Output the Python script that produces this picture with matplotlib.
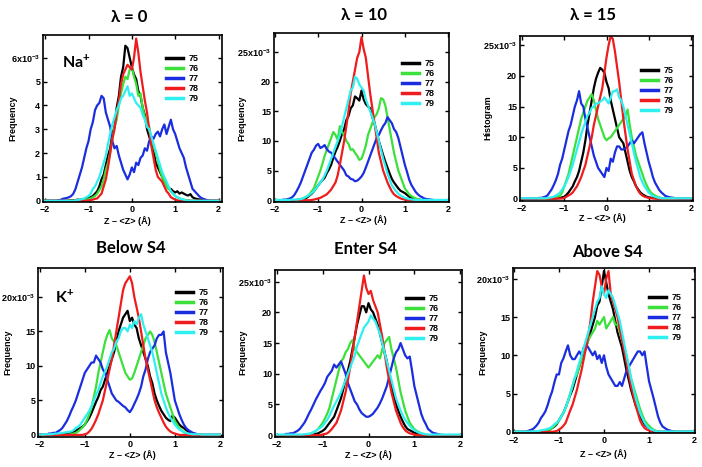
import numpy as np
import matplotlib
matplotlib.use('Agg')
import matplotlib.pyplot as plt
from matplotlib.ticker import MultipleLocator, FuncFormatter

plt.rcParams['font.family'] = ['Liberation Sans', 'DejaVu Sans']
plt.rcParams['mathtext.fontset'] = 'custom'
plt.rcParams['mathtext.rm'] = 'Liberation Sans:bold'
plt.rcParams['mathtext.bf'] = 'Liberation Sans:bold'
plt.rcParams['mathtext.default'] = 'bf'

# bin centres, Z - <Z> (A), 0.05 wide
z = np.round(np.arange(-2.0, 2.001, 0.05), 2)
labels = ['75', '76', '77', '78', '79']
colors = ['#000000', '#3be03b', '#1a2ee0', '#ee1c1c', '#2ef0f0']

# histogram values in units of 1e-3, rows of 10 bins (-2.0, -1.5, ... 1.5) + last bin
lam0_75 = [0, 0, 0, 0, 0, 0, 0, 0, 0, 0,
           0, 0.01, 0.02, 0.02, 0.03, 0.05, 0.04, 0.06, 0.08, 0.1,
           0.12, 0.15, 0.2, 0.3, 0.4, 0.6, 0.9, 1.1, 1.5, 1.9,
           2.2, 2.8, 3.1, 3.9, 4.4, 5.2, 5.6, 6.5, 6.4, 6.0,
           5.6, 5.3, 5.1, 4.6, 4.4, 3.9, 3.6, 3.0, 2.7, 2.4,
           2.1, 1.6, 1.4, 1.2, 1.0, 0.8, 0.7, 0.5, 0.5, 0.4,
           0.35, 0.4, 0.3, 0.35, 0.3, 0.25, 0.22, 0.28, 0.15, 0.1,
           0.08, 0.06, 0.04, 0.02, 0.01, 0, 0, 0, 0, 0, 0]
lam0_76 = [0, 0, 0, 0, 0, 0, 0, 0, 0, 0,
           0, 0, 0, 0, 0, 0, 0.01, 0.02, 0.03, 0.04,
           0.08, 0.1, 0.15, 0.2, 0.3, 0.45, 0.6, 0.9, 1.3, 1.6,
           2.0, 2.6, 3.1, 3.4, 4.0, 4.5, 4.9, 5.2, 5.1, 5.5,
           5.6, 5.2, 4.9, 4.4, 4.5, 3.9, 3.5, 3.3, 3.1, 2.6,
           2.3, 2.0, 1.7, 1.3, 1.0, 0.8, 0.6, 0.5, 0.4, 0.3,
           0.2, 0.15, 0.1, 0.07, 0.05, 0.03, 0.02, 0.01, 0, 0,
           0, 0, 0, 0, 0, 0, 0, 0, 0, 0, 0]
lam0_77 = [0, 0, 0, 0, 0, 0, 0.02, 0.03, 0.08, 0.1,
           0.12, 0.15, 0.2, 0.3, 0.5, 0.8, 1.1, 1.4, 1.8, 2.2,
           2.5, 3.0, 3.3, 3.8, 4.0, 4.1, 4.4, 4.3, 3.7, 3.4,
           3.1, 2.5, 2.2, 2.3, 1.9, 1.6, 1.3, 1.1, 0.9, 1.1,
           1.4, 1.2, 1.6, 1.5, 1.8, 1.9, 2.2, 2.1, 2.5, 2.7,
           2.6, 2.8, 2.9, 2.7, 3.0, 3.2, 2.8, 3.1, 3.4, 3.0,
           2.8, 2.5, 2.2, 2.0, 1.8, 1.4, 1.1, 0.8, 0.5, 0.4,
           0.3, 0.2, 0.12, 0.08, 0.05, 0.02, 0, 0, 0, 0, 0]
lam0_78 = [0, 0, 0, 0, 0, 0, 0, 0, 0, 0,
           0, 0, 0, 0, 0, 0, 0, 0, 0, 0,
           0.02, 0.03, 0.05, 0.08, 0.1, 0.2, 0.3, 0.6, 0.9, 1.4,
           2.0, 2.6, 3.0, 3.7, 4.2, 4.9, 5.3, 5.5, 5.7, 5.6,
           5.5, 6.0, 6.8, 6.2, 5.4, 4.8, 4.2, 3.7, 3.0, 2.3,
           1.8, 1.3, 1.0, 0.9, 0.8, 0.6, 0.4, 0.3, 0.15, 0.1,
           0.05, 0.02, 0, 0, 0, 0, 0, 0, 0, 0,
           0, 0, 0, 0, 0, 0, 0, 0, 0, 0, 0]
lam0_79 = [0, 0, 0, 0, 0, 0, 0, 0, 0, 0,
           0, 0, 0, 0, 0.02, 0.03, 0.05, 0.07, 0.1, 0.15,
           0.2, 0.3, 0.5, 0.6, 0.8, 1.0, 1.3, 1.6, 1.9, 2.4,
           2.8, 3.2, 3.5, 3.8, 4.0, 4.3, 4.4, 4.6, 4.8, 4.4,
           4.5, 4.3, 4.1, 4.0, 3.9, 3.6, 3.4, 3.1, 3.0, 2.7,
           2.4, 2.1, 1.8, 1.5, 1.2, 1.0, 0.8, 0.6, 0.4, 0.3,
           0.2, 0.15, 0.1, 0.07, 0.05, 0.02, 0, 0, 0, 0,
           0, 0, 0, 0, 0, 0, 0, 0, 0, 0, 0]

lam10_75 = [0, 0, 0, 0, 0, 0, 0, 0, 0, 0,
            0.05, 0.08, 0.1, 0.2, 0.3, 0.5, 0.8, 1.1, 1.5, 2.0,
            2.5, 3.0, 3.4, 3.8, 4.6, 5.2, 6.0, 7.2, 8.2, 9.0,
            10, 11.2, 12, 13.5, 14.2, 15.5, 16, 17.5, 17.2, 16.8,
            18.5, 17, 16.2, 15.8, 15.5, 14, 13, 11.5, 10, 8.8,
            7.6, 6.5, 5.5, 4.5, 3.6, 3.0, 2.5, 2.0, 1.6, 1.4,
            1.2, 0.9, 0.6, 0.4, 0.3, 0.2, 0.1, 0.05, 0, 0,
            0, 0, 0, 0, 0, 0, 0, 0, 0, 0, 0]
lam10_76 = [0, 0, 0, 0, 0, 0, 0, 0, 0, 0,
            0.05, 0.1, 0.2, 0.3, 0.5, 0.7, 1, 1.5, 2, 3,
            4, 5, 6.2, 7.5, 8.5, 9.5, 10.5, 11.5, 11, 10.2,
            12.5, 11.5, 11, 10, 9.5, 8.5, 8.6, 8, 7.5, 6.8,
            7, 8, 9.2, 11, 12, 13, 14, 14.5, 15.5, 17.2,
            17, 16, 14, 12, 10, 8, 6.5, 5, 4, 3,
            2, 1.5, 1, 0.7, 0.5, 0.3, 0.2, 0.1, 0.05, 0.02,
            0, 0, 0, 0, 0, 0, 0, 0, 0, 0, 0]
lam10_77 = [0, 0, 0, 0, 0.1, 0.1, 0.2, 0.3, 0.5, 0.9,
            1.5, 2.2, 3, 4, 5, 6, 7, 8, 8.5, 9.2,
            9.5, 8.8, 9, 9.3, 8.6, 8.2, 8, 7.5, 7, 6.5,
            6, 5.5, 5, 4.2, 4, 3.6, 3.5, 3.2, 3.3, 3.6,
            4, 4.6, 5.5, 6.5, 7.5, 8.5, 9.5, 10.5, 11, 11.8,
            12.5, 13, 14, 13.5, 13, 12, 11.5, 10.5, 9, 7.5,
            6, 4.8, 3.5, 2.6, 2, 1.4, 1, 0.7, 0.5, 0.3,
            0.2, 0.15, 0.1, 0.05, 0, 0, 0, 0, 0, 0, 0]
lam10_78 = [0, 0, 0, 0, 0, 0, 0, 0, 0, 0,
            0, 0, 0, 0, 0, 0, 0, 0.05, 0.1, 0.2,
            0.3, 0.4, 0.6, 0.8, 1.0, 1.4, 1.8, 2.4, 3.0, 4.2,
            6, 8, 10, 12.5, 15, 18, 20, 22, 24, 25,
            27.5, 25.5, 24, 21, 18, 15.5, 13, 10.5, 8, 6.5,
            5, 4, 3, 2.2, 1.5, 1, 0.7, 0.5, 0.3, 0.2,
            0.1, 0.05, 0, 0, 0, 0, 0, 0, 0, 0,
            0, 0, 0, 0, 0, 0, 0, 0, 0, 0, 0]
lam10_79 = [0.05, 0.05, 0.05, 0.05, 0.05, 0.05, 0.05, 0.05, 0.1, 0.1,
            0.1, 0.15, 0.2, 0.3, 0.5, 0.7, 0.9, 1.2, 1.5, 2,
            2.5, 3, 3.5, 4.2, 5, 6, 7, 8, 9, 10,
            11, 12.5, 14, 15.5, 17, 18.5, 19, 20.8, 20.5, 19.5,
            19, 18.5, 17, 16, 15, 14, 13, 11.5, 10, 8.5,
            7, 5.8, 4.5, 3.5, 2.5, 2, 1.5, 1.1, 0.8, 0.6,
            0.4, 0.3, 0.2, 0.15, 0.1, 0.05, 0.05, 0.05, 0.05, 0.05,
            0.05, 0.05, 0.05, 0.05, 0.05, 0.05, 0.05, 0.05, 0.05, 0.05, 0.05]

lam15_75 = [0, 0, 0, 0, 0, 0, 0, 0, 0, 0,
            0, 0, 0, 0, 0, 0, 0, 0.05, 0.1, 0.2,
            0.3, 0.6, 1, 1.5, 2, 2.8, 3.5, 4.5, 6, 7.5,
            9.5, 12, 14, 16, 18, 19.5, 20.5, 21.3, 21, 20.5,
            19, 18, 16, 14.5, 13, 11.5, 10, 9.5, 9, 7.5,
            6, 4.5, 3.5, 2.8, 2, 1.5, 1, 0.7, 0.5, 0.3,
            0.2, 0.15, 0.1, 0.05, 0, 0, 0, 0, 0, 0,
            0, 0, 0, 0, 0, 0, 0, 0, 0, 0, 0]
lam15_76 = [0, 0, 0, 0, 0, 0, 0, 0, 0, 0,
            0, 0, 0, 0.05, 0.1, 0.15, 0.2, 0.3, 0.5, 1,
            2, 3, 4, 5.5, 7, 8.5, 10, 11.5, 13, 14,
            15, 16, 16.5, 17, 16, 14.5, 13, 12, 11, 10,
            9.5, 9.8, 10, 10.5, 11, 11.5, 12, 12.5, 13, 13.5,
            14.5, 12, 10, 8.5, 7, 6, 5, 4, 3, 2.2,
            1.5, 1, 0.7, 0.5, 0.3, 0.2, 0.1, 0.05, 0, 0,
            0, 0, 0, 0, 0, 0, 0, 0, 0, 0, 0]
lam15_77 = [0, 0, 0, 0, 0, 0, 0, 0, 0.1, 0.1,
            0.2, 0.3, 0.5, 1, 1.5, 2.2, 3, 4, 5.5, 6.5,
            8, 9.5, 11, 12, 13.5, 15, 16, 17.5, 15.5, 15,
            13, 11.5, 10, 8.5, 7, 6, 5, 4.5, 4, 3.5,
            5, 4.5, 6.5, 6, 7.5, 8.5, 8.5, 8, 8, 8.2,
            8.5, 9, 9.5, 9, 9.5, 10, 10.5, 10.8, 9, 7.5,
            6, 4.8, 3.5, 2.6, 2, 1.4, 1, 0.7, 0.4, 0.3,
            0.2, 0.15, 0.1, 0.05, 0, 0, 0, 0, 0, 0, 0]
lam15_78 = [0, 0, 0, 0, 0, 0, 0, 0, 0, 0,
            0, 0, 0, 0, 0, 0, 0, 0, 0, 0,
            0.1, 0.3, 0.5, 0.7, 1, 1.5, 2, 2.7, 3.5, 4.5,
            5.5, 7, 8.5, 10, 12, 13.5, 15, 16.5, 18, 20.5,
            23, 25, 26.5, 26, 24, 21.5, 19, 16, 13, 10.5,
            8, 6, 4, 3, 2, 1.3, 0.8, 0.5, 0.3, 0.2,
            0.1, 0.05, 0, 0, 0, 0, 0, 0, 0, 0,
            0, 0, 0, 0, 0, 0, 0, 0, 0, 0, 0]
lam15_79 = [0.05, 0.05, 0.05, 0.05, 0.05, 0.05, 0.05, 0.05, 0.05, 0.05,
            0.05, 0.05, 0.1, 0.15, 0.2, 0.3, 0.5, 0.7, 1, 1.5,
            2, 2.7, 3.5, 4.5, 5.5, 6.8, 8, 9.2, 10.5, 11.5,
            12.5, 13.5, 14, 14.8, 15, 15.5, 15.5, 15.8, 16, 16.5,
            16, 15.5, 16.5, 17.5, 17.5, 17.8, 16.5, 16, 15, 13.5,
            12, 10.5, 9, 7.5, 6, 4.8, 3.5, 2.7, 2, 1.5,
            1, 0.7, 0.4, 0.3, 0.2, 0.1, 0.05, 0.05, 0.05, 0.05,
            0.05, 0.05, 0.05, 0.05, 0.05, 0.05, 0.05, 0.05, 0.05, 0.05, 0.05]

below_75 = [0, 0, 0, 0, 0, 0, 0, 0, 0.05, 0.05,
            0.1, 0.1, 0.1, 0.2, 0.3, 0.4, 0.6, 0.8, 1, 1.2,
            1.5, 2, 2.5, 3.2, 4, 4.8, 5.5, 6.5, 7, 8,
            9, 10, 11, 12, 13.5, 15, 16, 17, 17.5, 18,
            16.5, 17, 16, 15.5, 14, 13, 12, 11, 10, 8.5,
            7.5, 6, 5, 4.2, 3.5, 3, 2.5, 2.2, 2, 2.8,
            2.5, 2, 1.5, 1.2, 1, 0.7, 0.5, 0.3, 0.2, 0.15,
            0.1, 0.05, 0, 0, 0, 0, 0, 0, 0, 0, 0]
below_76 = [0, 0, 0, 0, 0, 0, 0, 0, 0, 0,
            0, 0, 0, 0.05, 0.1, 0.2, 0.3, 0.5, 0.8, 1.1,
            1.5, 2.2, 3, 4, 5.5, 7, 9, 10.5, 12, 13.5,
            14.5, 15.2, 14, 13.5, 13, 12, 11, 10, 9, 8.5,
            8, 8.2, 9, 10, 11, 12, 13, 14, 14.5, 15,
            14.5, 13.5, 12, 10.5, 9, 7.5, 6, 5, 4, 3,
            2, 1.5, 1, 0.7, 0.4, 0.2, 0.1, 0.05, 0, 0,
            0, 0, 0, 0, 0, 0, 0, 0, 0, 0, 0]
below_77 = [0, 0, 0, 0, 0.2, 0.2, 0.3, 0.3, 0.5, 0.7,
            1, 1.5, 2, 2.7, 3.5, 4.2, 5, 6, 7, 8,
            9, 9.5, 10, 10.5, 10.5, 11.5, 11, 10.5, 9.5, 9,
            8, 7, 6, 5.5, 5, 4.8, 4.5, 4.2, 4, 3.6,
            3.3, 3.8, 4.5, 5.2, 6, 7, 8.5, 9.5, 11, 12,
            12.5, 13, 14, 14.5, 14.5, 15, 12, 10.5, 9, 7,
            5, 4, 3, 2.2, 1.5, 1, 0.7, 0.5, 0.3, 0.2,
            0.1, 0.05, 0, 0, 0, 0, 0, 0, 0, 0, 0]
below_78 = [0, 0, 0, 0, 0, 0, 0, 0, 0, 0,
            0, 0, 0, 0, 0, 0, 0, 0, 0, 0,
            0.1, 0.2, 0.5, 0.9, 1.5, 2.2, 3, 4, 5, 6.5,
            8, 9.5, 11, 13, 15, 17, 19, 21, 22, 22.5,
            23, 22, 20, 18.5, 17, 15, 13, 11, 9.5, 8,
            6.5, 5, 4, 3.2, 2.5, 1.8, 1.2, 0.8, 0.5, 0.3,
            0.2, 0.1, 0, 0, 0, 0, 0, 0, 0, 0,
            0, 0, 0, 0, 0, 0, 0, 0, 0, 0, 0]
below_79 = [0.05, 0.05, 0.05, 0.1, 0.1, 0.1, 0.15, 0.2, 0.2, 0.25,
            0.3, 0.35, 0.4, 0.45, 0.5, 0.7, 1, 1.2, 1.5, 2,
            2.5, 3, 3.5, 4.2, 5, 5.8, 6.5, 7.5, 8.5, 9.2,
            10, 11, 12, 12.5, 13.5, 14, 15, 15.5, 15.5, 15,
            16, 15.5, 16.5, 16, 17, 17.5, 16, 15, 14, 13,
            12, 10.5, 9, 7.5, 6, 5, 4, 3.2, 2.5, 2,
            1.5, 1.1, 0.8, 0.6, 0.4, 0.3, 0.2, 0.15, 0.1, 0.1,
            0.1, 0.1, 0.05, 0.05, 0.05, 0.05, 0.05, 0.05, 0.05, 0.05, 0.05]

enter_75 = [0, 0, 0, 0, 0, 0, 0, 0, 0, 0,
            0, 0, 0, 0, 0, 0.05, 0.1, 0.2, 0.3, 0.5,
            0.7, 1, 1.5, 2, 2.5, 3, 4, 5, 6, 7.5,
            9, 10.5, 12, 14, 16, 18, 19.5, 21, 21, 20,
            21.5, 20.5, 20, 19, 18, 16.5, 15, 13.5, 12, 10,
            8, 6.5, 5, 4, 3, 2.2, 1.5, 1, 0.8, 0.6,
            0.4, 0.3, 0.2, 0.1, 0.05, 0, 0, 0, 0, 0,
            0, 0, 0, 0, 0, 0, 0, 0, 0, 0, 0]
enter_76 = [0, 0, 0, 0, 0, 0, 0, 0, 0, 0,
            0, 0, 0.05, 0.1, 0.2, 0.3, 0.5, 0.7, 1, 1.5,
            2, 2.7, 3.5, 4.5, 6, 7.5, 9, 10.5, 12, 12.5,
            13.5, 14, 15, 15.5, 14, 13.5, 13, 12.5, 12, 11.5,
            11, 11.5, 12, 12.5, 13, 12.5, 14, 15, 15.5, 16,
            14, 12.5, 11, 9, 7, 5.5, 4, 3, 2, 1.5,
            1, 0.7, 0.5, 0.3, 0.2, 0.1, 0.05, 0, 0, 0,
            0, 0, 0, 0, 0, 0, 0, 0, 0, 0, 0]
enter_77 = [0, 0, 0, 0, 0.2, 0.2, 0.3, 0.3, 0.5, 0.7,
            1, 1.5, 2, 2.7, 3.5, 4.2, 5, 5.8, 6.5, 7.2,
            7.8, 8.5, 9.5, 10, 10.5, 11.5, 11, 11.5, 12, 11,
            10, 8.5, 7.5, 6.5, 5.5, 5, 4.2, 3.6, 3.3, 3,
            3, 3.2, 3.5, 4, 4.5, 5.2, 6, 7, 8, 9.5,
            11, 12.5, 13.5, 14, 15, 14, 13, 12.5, 12.8, 10.5,
            8, 6.5, 5, 3.5, 2.5, 1.8, 1, 0.7, 0.4, 0.3,
            0.2, 0.1, 0.05, 0, 0, 0, 0, 0, 0, 0, 0]
enter_78 = [0, 0, 0, 0, 0, 0, 0, 0, 0, 0,
            0, 0, 0, 0, 0, 0, 0, 0, 0, 0,
            0.1, 0.2, 0.3, 0.6, 1, 1.5, 2, 3, 4, 5.5,
            7, 9, 11, 13.5, 16, 18.5, 21, 23.5, 26, 24,
            23, 23.5, 22, 21, 20, 18, 16, 13.5, 11, 9,
            7, 5.5, 4, 3, 2, 1.3, 0.8, 0.5, 0.3, 0.2,
            0.1, 0.05, 0, 0, 0, 0, 0, 0, 0, 0,
            0, 0, 0, 0, 0, 0, 0, 0, 0, 0, 0]
enter_79 = [0.1, 0.1, 0.1, 0.1, 0.1, 0.1, 0.1, 0.1, 0.1, 0.1,
            0.1, 0.1, 0.15, 0.2, 0.2, 0.3, 0.5, 0.7, 1, 1.2,
            1.5, 2, 2.5, 3.2, 4, 4.8, 5.5, 6.2, 7, 8,
            9, 10, 11, 12, 13, 14.5, 15.5, 16.5, 17.5, 18,
            18.5, 19.5, 19, 18.5, 17.5, 16.5, 15, 13.5, 12, 10.5,
            9, 7.5, 6, 5, 4, 3.2, 2.5, 2, 1.5, 1.1,
            0.8, 0.6, 0.4, 0.3, 0.2, 0.15, 0.1, 0.1, 0.1, 0.1,
            0.1, 0.1, 0.1, 0.1, 0.1, 0.1, 0.1, 0.1, 0.1, 0.1, 0.1]

above_75 = [0, 0, 0, 0, 0, 0, 0, 0, 0, 0,
            0, 0, 0, 0.05, 0.1, 0.2, 0.3, 0.5, 0.7, 1,
            1.5, 2, 2.5, 3.2, 4, 4.8, 5.5, 6.5, 7.5, 8.5,
            9.5, 10, 11, 12, 13, 14, 15, 16.5, 17, 19,
            21, 19.5, 18, 17, 16, 14.5, 13, 12, 11, 9.5,
            8, 6.8, 5.5, 4.5, 3.5, 2.8, 2, 1.5, 1, 0.7,
            0.5, 0.3, 0.2, 0.1, 0.05, 0, 0, 0, 0, 0,
            0, 0, 0, 0, 0, 0, 0, 0, 0, 0, 0]
above_76 = [0, 0, 0, 0, 0, 0, 0, 0, 0, 0,
            0, 0, 0, 0, 0.1, 0.2, 0.3, 0.5, 0.8, 1.1,
            1.5, 2, 2.5, 3.2, 4, 5, 6, 7, 7.5, 8.5,
            9.5, 10.5, 11, 12, 12.5, 13, 13.5, 14.5, 14, 14.5,
            15, 13.5, 14, 14.5, 15, 14, 14, 13, 12, 11,
            10, 8.5, 7, 6, 5, 4, 3, 2.2, 1.5, 1.1,
            0.8, 0.5, 0.3, 0.15, 0.05, 0, 0, 0, 0, 0,
            0, 0, 0, 0, 0, 0, 0, 0, 0, 0, 0]
above_77 = [0, 0, 0, 0, 0, 0, 0.1, 0.2, 0.3, 0.5,
            0.8, 1.2, 1.8, 2.2, 2.7, 3.5, 4.5, 5.3, 6.5, 7.5,
            7.5, 9, 9.6, 10.5, 11.3, 10, 9.5, 9.5, 10, 10.5,
            10, 11, 11.5, 11, 10.5, 10, 10.5, 9.5, 10, 9,
            10, 8.5, 7.5, 7, 6.5, 6, 6, 6.5, 6, 7,
            8, 8.5, 9, 9.5, 10, 10.5, 10.5, 10, 10.5, 8.5,
            6.6, 5.5, 4.4, 3.2, 2, 1.2, 0.7, 0.5, 0.3, 0.2,
            0.1, 0.05, 0, 0, 0, 0, 0, 0, 0, 0, 0]
above_78 = [0, 0, 0, 0, 0, 0, 0, 0, 0, 0,
            0, 0, 0, 0, 0, 0, 0, 0, 0.05, 0.1,
            0.3, 0.5, 0.8, 1.2, 2, 2.8, 3.5, 4.5, 5.5, 6.8,
            8, 9.5, 11, 12.5, 14.5, 17, 19, 21, 20.5, 19,
            18, 20, 21, 18, 17, 16, 15, 13.5, 12, 10.5,
            9, 7.5, 6, 4.8, 3.5, 2.5, 1.5, 0.9, 0.5, 0.3,
            0.2, 0.1, 0, 0, 0, 0, 0, 0, 0, 0,
            0, 0, 0, 0, 0, 0, 0, 0, 0, 0, 0]
above_79 = [0.05, 0.05, 0.05, 0.05, 0.05, 0.05, 0.05, 0.05, 0.05, 0.05,
            0.1, 0.1, 0.2, 0.25, 0.3, 0.4, 0.5, 0.7, 1, 1.2,
            1.5, 2, 2.5, 3.2, 4, 5, 6, 7, 8, 9,
            10, 11, 12, 13, 14, 15, 16, 17, 17.5, 19,
            18, 17.5, 18.5, 18, 17.5, 16.5, 15.5, 14.5, 13, 11.5,
            10, 8.5, 7, 5.8, 4.5, 3.5, 2.5, 1.8, 1.2, 0.8,
            0.5, 0.3, 0.2, 0.1, 0.05, 0.05, 0.05, 0.05, 0.05, 0.05,
            0.05, 0.05, 0.05, 0.05, 0.05, 0.05, 0.05, 0.05, 0.05, 0.05, 0.05]

W, H = 702, 467
fig = plt.figure(figsize=(W / 100, H / 100), dpi=100)


def fx(px):
    return px / W


def fy(py):
    return 1 - py / H


# title, ylabel, series, box (l, t, r, b px), xlim, ylim, ystep,
# legend px, title px, xlabel px, ylabel px
panels = [
    ('λ = 0', 'Frequency', [lam0_75, lam0_76, lam0_77, lam0_78, lam0_79],
     (43, 35, 222, 202), (-2.05, 2.08), (-0.05, 6.95), 1,
     (166, 54), (129, 17), (127, 221), (13, 118)),
    ('λ = 10', 'Frequency', [lam10_75, lam10_76, lam10_77, lam10_78, lam10_79],
     (274, 33, 449, 202), (-2.02, 2.02), (-0.3, 28.2), 5,
     (402, 59), (364, 15), (363, 220), (242, 118)),
    ('λ = 15', 'Histogram', [lam15_75, lam15_76, lam15_77, lam15_78, lam15_79],
     (520, 36, 693, 201), (-2.05, 2.05), (-0.4, 26.5), 5,
     (641, 66), (593, 15), (602, 218), (488, 118)),
    ('Below S4', 'Frequency', [below_75, below_76, below_77, below_78, below_79],
     (38, 268, 223, 437), (-2.04, 2.07), (-0.3, 24.2), 5,
     (176, 288), (131, 248), (132, 455), (8, 352)),
    ('Enter S4', 'Frequency', [enter_75, enter_76, enter_77, enter_78, enter_79],
     (275, 270, 462, 437), (-2.04, 2.04), (-0.3, 26.9), 5,
     (406, 294), (366, 249), (368, 455), (243, 352)),
    ('Above S4', 'Frequency', [above_75, above_76, above_77, above_78, above_79],
     (513, 268, 695, 433), (-2.02, 2.02), (-0.15, 21.4), 5,
     (649, 293), (607, 252), (603, 454), (483, 352)),
]

for (title, ylab, series, box, xlim, ylim, ystep,
     leg, tpos, xlpos, ylpos) in panels:
    l, t, r, b = box
    ax = fig.add_axes([fx(l), fy(b), (r - l) / W, (b - t) / H])
    for vals, lab, c in zip(series, labels, colors):
        ax.plot(z, vals, color=c, lw=1.6, label=lab)
    ax.set_xlim(*xlim)
    ax.set_ylim(*ylim)
    ax.xaxis.set_major_locator(MultipleLocator(1))
    ax.yaxis.set_major_locator(MultipleLocator(ystep))
    top = int(ylim[1] // ystep) * ystep

    def fmt(v, pos, top=top):
        if abs(v - top) < 1e-6:
            return '%gx10$^{-3}$' % v
        return '%g' % v
    ax.yaxis.set_major_formatter(FuncFormatter(fmt))
    ax.tick_params(direction='in', length=3, width=1, top=True, right=True,
                   labelsize=6.5, pad=2)
    for lbl in ax.get_xticklabels() + ax.get_yticklabels():
        lbl.set_fontweight('bold')
    for s in ax.spines.values():
        s.set_linewidth(1.2)

    lg = ax.legend(loc='upper left', bbox_to_anchor=(fx(leg[0]), fy(leg[1])),
                   bbox_transform=fig.transFigure, frameon=False,
                   borderpad=0, borderaxespad=0, handlelength=1.9,
                   handletextpad=0.6, labelspacing=0.12,
                   prop={'size': 6.5, 'weight': 'bold'})
    for h in lg.get_lines():
        h.set_linewidth(2.5)

    fig.text(fx(tpos[0]), fy(tpos[1]), title, ha='center', va='center',
             fontsize=12, fontweight='bold', family=['Lato', 'DejaVu Sans'])
    fig.text(fx(xlpos[0]), fy(xlpos[1]), 'Z – <Z> (Å)', ha='center',
             va='center', fontsize=6.5, fontweight='bold')
    fig.text(fx(ylpos[0]), fy(ylpos[1]), ylab, ha='center', va='center',
             rotation=90, fontsize=6.5, fontweight='bold')

fig.text(fx(62), fy(62), 'Na$^{+}$', ha='left', va='center', fontsize=11.5,
         fontweight='bold', family=['Lato', 'DejaVu Sans'])
fig.text(fx(55), fy(297), 'K$^{+}$', ha='left', va='center', fontsize=11.5,
         fontweight='bold', family=['Lato', 'DejaVu Sans'])

fig.savefig('out.png', dpi=100)
